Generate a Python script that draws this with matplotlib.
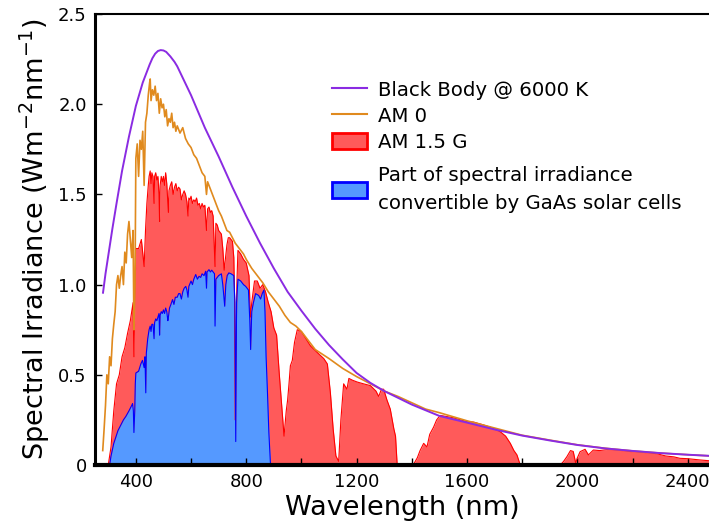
import matplotlib
matplotlib.use("Agg")
import matplotlib.pyplot as plt
import matplotlib.patches as mpatches
from matplotlib.lines import Line2D

# ---- Données ---- #

# Corps noir @ 6000 K (mis à l'échelle)
bb_wl = [281, 290, 300, 315, 330, 350, 375, 400, 425, 440, 450, 460, 470, 480,
         490, 500, 510, 525, 540, 550, 575, 600, 625, 650, 675, 700, 725, 750,
         775, 800, 825, 850, 875, 900, 925, 950, 1000, 1050, 1100, 1150, 1200,
         1250, 1300, 1400, 1500, 1600, 1700, 1800, 1900, 2000, 2100, 2200,
         2300, 2400, 2500]
bb_val = [0.955, 1.06, 1.16, 1.31, 1.45, 1.63, 1.82, 1.99, 2.12, 2.18, 2.22,
          2.255, 2.28, 2.295, 2.30, 2.298, 2.29, 2.265, 2.235, 2.21, 2.13,
          2.05, 1.96, 1.87, 1.79, 1.71, 1.625, 1.54, 1.46, 1.38, 1.305, 1.23,
          1.16, 1.09, 1.025, 0.96, 0.855, 0.755, 0.665, 0.585, 0.51, 0.455,
          0.41, 0.335, 0.272, 0.235, 0.197, 0.163, 0.136, 0.111, 0.092, 0.078,
          0.066, 0.057, 0.049]

# AM 0
am0_wl = [280, 285, 290, 295, 300, 305, 310, 315, 320, 325, 330, 335, 340, 345,
          350, 355, 360, 365, 370, 375, 380, 385, 390, 393, 397, 400, 405, 410,
          415, 420, 425, 430, 435, 440, 445, 450, 452, 455, 460, 465, 470, 475,
          480, 485, 490, 495, 500, 505, 510, 515, 520, 525, 530, 535, 540, 545,
          550, 560, 570, 580, 590, 600, 610, 620, 630, 640, 650, 656, 660, 670,
          680, 690, 700, 710, 720, 730, 740, 750, 760, 770, 780, 790, 800, 820,
          840, 860, 880, 900, 920, 940, 960, 980, 1000, 1050, 1100, 1150, 1200,
          1250, 1300, 1350, 1400, 1450, 1500, 1600, 1700, 1800, 1900, 2000,
          2100, 2200, 2300, 2400, 2500]
am0_val = [0.08, 0.2, 0.33, 0.5, 0.45, 0.6, 0.55, 0.7, 0.78, 0.85, 1.0, 1.05,
           0.98, 1.05, 1.1, 1.0, 1.18, 1.12, 1.28, 1.35, 1.25, 1.15, 1.3, 0.75,
           1.0, 1.7, 1.78, 1.6, 1.8, 1.75, 1.85, 1.55, 1.9, 1.95, 2.05, 2.12,
           2.14, 2.02, 2.08, 2.05, 2.1, 2.02, 2.06, 1.95, 2.03, 1.98, 2.0, 1.93,
           1.97, 1.88, 1.92, 1.9, 1.95, 1.87, 1.9, 1.85, 1.88, 1.84, 1.87, 1.81,
           1.78, 1.76, 1.72, 1.70, 1.66, 1.62, 1.60, 1.5, 1.57, 1.53, 1.49, 1.45,
           1.41, 1.38, 1.34, 1.30, 1.29, 1.26, 1.23, 1.21, 1.19, 1.17, 1.14,
           1.09, 1.05, 1.01, 0.96, 0.92, 0.88, 0.83, 0.79, 0.77, 0.74, 0.64,
           0.59, 0.535, 0.49, 0.45, 0.41, 0.38, 0.345, 0.31, 0.29, 0.245, 0.205,
           0.165, 0.138, 0.112, 0.093, 0.078, 0.066, 0.057, 0.049]

# AM 1.5 G
am15_wl = [300, 310, 320, 330, 340, 350, 360, 370, 380, 390, 393, 396, 400, 410,
           420, 430, 435, 440, 445, 448, 452, 455, 458, 462, 466, 468, 472, 476,
           480, 484, 486, 488, 492, 496, 500, 504, 508, 512, 516, 518, 520, 525,
           530, 535, 540, 545, 550, 555, 560, 565, 570, 575, 580, 585, 589, 592,
           596, 600, 605, 610, 615, 620, 625, 630, 635, 640, 645, 650, 656, 660,
           665, 670, 675, 680, 687, 690, 695, 700, 705, 710, 715, 720, 725, 730,
           735, 740, 745, 750, 755, 758, 760, 763, 766, 770, 780, 790, 800, 810,
           815, 820, 830, 840, 850, 860, 870, 880, 890, 900, 910, 920, 930, 937,
           945, 950, 955, 960, 967, 975, 985, 1000, 1033, 1060, 1081, 1094, 1105,
           1115, 1125, 1135, 1143, 1153, 1165, 1172, 1185, 1202, 1225, 1250,
           1270, 1280, 1290, 1298, 1310, 1322, 1335, 1341, 1347, 1405, 1420,
           1430, 1443, 1455, 1465, 1479, 1490, 1503, 1550, 1600, 1624, 1660,
           1684, 1720, 1740, 1757, 1770, 1781, 1793, 1938, 1950, 1962, 1975,
           1985, 1994, 2000, 2010, 2028, 2040, 2058, 2080, 2107, 2150, 2191,
           2240, 2287, 2320, 2350, 2372, 2400, 2444, 2470, 2500]
am15_val = [0.0, 0.1, 0.3, 0.45, 0.5, 0.6, 0.65, 0.73, 0.8, 0.9, 0.6, 0.85, 1.2,
            1.2, 1.25, 1.1, 1.3, 1.45, 1.55, 1.6, 1.63, 1.56, 1.62, 1.6, 1.45,
            1.6, 1.62, 1.58, 1.6, 1.5, 1.35, 1.55, 1.6, 1.57, 1.6, 1.55, 1.62,
            1.56, 1.45, 1.4, 1.52, 1.55, 1.57, 1.5, 1.54, 1.56, 1.52, 1.54, 1.53,
            1.47, 1.5, 1.52, 1.5, 1.46, 1.38, 1.48, 1.47, 1.49, 1.45, 1.47,
            1.46, 1.48, 1.44, 1.45, 1.42, 1.45, 1.43, 1.44, 1.3, 1.42, 1.43,
            1.4, 1.41, 1.38, 1.1, 1.34, 1.33, 1.3, 1.29, 1.28, 1.2, 1.08, 1.15,
            1.22, 1.26, 1.26, 1.25, 1.24, 1.15, 0.9, 0.25, 0.6, 1.0, 1.19, 1.17,
            1.14, 1.12, 1.05, 0.82, 0.9, 1.02, 1.02, 0.98, 1.0, 0.96, 0.9, 0.85,
            0.76, 0.72, 0.5, 0.3, 0.16, 0.3, 0.36, 0.45, 0.55, 0.58, 0.68, 0.75,
            0.74, 0.66, 0.62, 0.59, 0.56, 0.4, 0.2, 0.05, 0.02, 0.25, 0.45, 0.42,
            0.48, 0.47, 0.46, 0.45, 0.44, 0.41, 0.38, 0.42, 0.42, 0.36, 0.31,
            0.2, 0.16, 0.0, 0.0, 0.04, 0.08, 0.12, 0.1, 0.17, 0.21, 0.25, 0.275,
            0.262, 0.24, 0.238, 0.222, 0.21, 0.185, 0.16, 0.12, 0.08, 0.056, 0.0,
            0.0, 0.02, 0.046, 0.08, 0.075, 0.01, 0.04, 0.074, 0.087, 0.056,
            0.083, 0.08, 0.085, 0.082, 0.075, 0.07, 0.063, 0.05, 0.045, 0.037,
            0.035, 0.028, 0.025, 0.02]

# Partie convertible par des cellules GaAs
gaas_wl = [305, 310, 320, 328, 335, 345, 355, 364, 375, 385, 388, 391, 393, 396,
           398, 400, 410, 418, 424, 430, 433, 436, 438, 443, 448, 452, 455, 458,
           462, 466, 468, 472, 476, 480, 484, 486, 488, 492, 496, 500, 504, 508,
           512, 516, 518, 522, 527, 533, 538, 543, 550, 555, 560, 565, 570, 575,
           581, 585, 589, 592, 600, 605, 610, 617, 623, 629, 635, 640, 647, 653,
           656, 658, 665, 670, 675, 680, 685, 687, 690, 695, 700, 705, 710, 715,
           718, 722, 726, 731, 737, 745, 755, 759, 762, 765, 770, 780, 790, 798,
           808, 813, 816, 820, 826, 834, 845, 852, 858, 864, 868, 872, 877, 882,
           888]
gaas_val = [0.0, 0.05, 0.12, 0.157, 0.19, 0.22, 0.25, 0.27, 0.3, 0.33, 0.34, 0.3,
            0.18, 0.3, 0.45, 0.51, 0.52, 0.56, 0.58, 0.54, 0.6, 0.40, 0.62, 0.7,
            0.75, 0.77, 0.74, 0.78, 0.78, 0.7, 0.79, 0.81, 0.8, 0.82, 0.84,
            0.72, 0.83, 0.85, 0.84, 0.86, 0.84, 0.87, 0.85, 0.8, 0.82, 0.87,
            0.89, 0.917, 0.89, 0.93, 0.93, 0.95, 0.95, 0.92, 0.96, 0.98, 0.99,
            0.97, 0.93, 0.99, 1.02, 1.0, 1.03, 1.056, 1.03, 1.046, 1.04, 1.06,
            1.05, 1.074, 0.98, 1.07, 1.083, 1.07, 1.08, 1.07, 1.06, 0.77, 1.03,
            1.04, 1.05, 1.055, 1.06, 1.0, 0.95, 0.88, 1.0, 1.05, 1.065, 1.06,
            1.05, 0.9, 0.13, 0.9, 1.03, 1.02, 1.0, 0.99, 0.97, 0.8, 0.64, 0.85,
            0.9, 0.95, 0.94, 0.92, 0.95, 0.97, 0.85, 0.6, 0.4, 0.18, 0.0]

x_ticks = [400, 800, 1200, 1600, 2000, 2400]
x_minor = [600, 1000, 1400, 1800, 2200]
y_ticks = [0, 0.5, 1.0, 1.5, 2.0, 2.5]
y_labels = ["0", "0.5", "1.0", "1.5", "2.0", "2.5"]

# ---- Figure ---- #

fig = plt.figure(figsize=(7.09, 5.31), dpi=100)
ax = fig.add_axes([0.134, 0.1243, 0.866, 0.8493])

ax.fill_between(am15_wl, am15_val, color="#ff5a5a", lw=0)
ax.plot(am15_wl, am15_val, color="#ff0000", lw=0.8)
ax.fill_between(gaas_wl, gaas_val, color="#5599ff", lw=0)
ax.plot(gaas_wl, gaas_val, color="#0000ff", lw=0.8)
ax.plot(am0_wl, am0_val, color="#e08a1e", lw=1.2)
ax.plot(bb_wl, bb_val, color="#8a2be2", lw=1.4)

ax.set_xlim(252, 2477)
ax.set_ylim(0, 2.5)
ax.set_xticks(x_ticks)
ax.set_xticks(x_minor, minor=True)
ax.set_yticks(y_ticks)
ax.set_yticklabels(y_labels)
ax.tick_params(which="both", direction="in", length=5, width=1, labelsize=13,
               pad=6)
ax.spines["right"].set_visible(False)
ax.spines["bottom"].set_linewidth(3)
ax.spines["left"].set_linewidth(2.2)
ax.spines["top"].set_linewidth(1.5)

ax.set_xlabel("Wavelength (nm)", fontsize=19.5, labelpad=3)
ax.set_ylabel(r"Spectral Irradiance (Wm$^{-2}$nm$^{-1}$)", fontsize=19.5,
              labelpad=4)

# Légende en deux blocs pour régler l'écart avant l'entrée sur deux lignes
opts = dict(loc="upper left", frameon=False, fontsize=14.2, borderpad=0,
            borderaxespad=0, handlelength=1.75, handletextpad=0.6,
            handleheight=0.9, labelspacing=0.36)
handles1 = [
    Line2D([], [], color="#8a2be2", lw=1.5),
    Line2D([], [], color="#e08a1e", lw=1.5),
    mpatches.Patch(facecolor="#ff5a5a", edgecolor="#ff0000", lw=2),
]
labels1 = ["Black Body @ 6000 K", "AM 0", "AM 1.5 G"]
leg1 = ax.legend(handles1, labels1, bbox_to_anchor=(0.386, 0.852), **opts)
ax.add_artist(leg1)

handles2 = [mpatches.Patch(facecolor="#5599ff", edgecolor="#0000ff", lw=2)]
labels2 = ["Part of spectral irradiance\nconvertible by GaAs solar cells"]
leg2 = ax.legend(handles2, labels2, bbox_to_anchor=(0.386, 0.663), **opts)
for t in leg2.get_texts():
    t.set_linespacing(1.6)

fig.savefig("out.png", dpi=100)
